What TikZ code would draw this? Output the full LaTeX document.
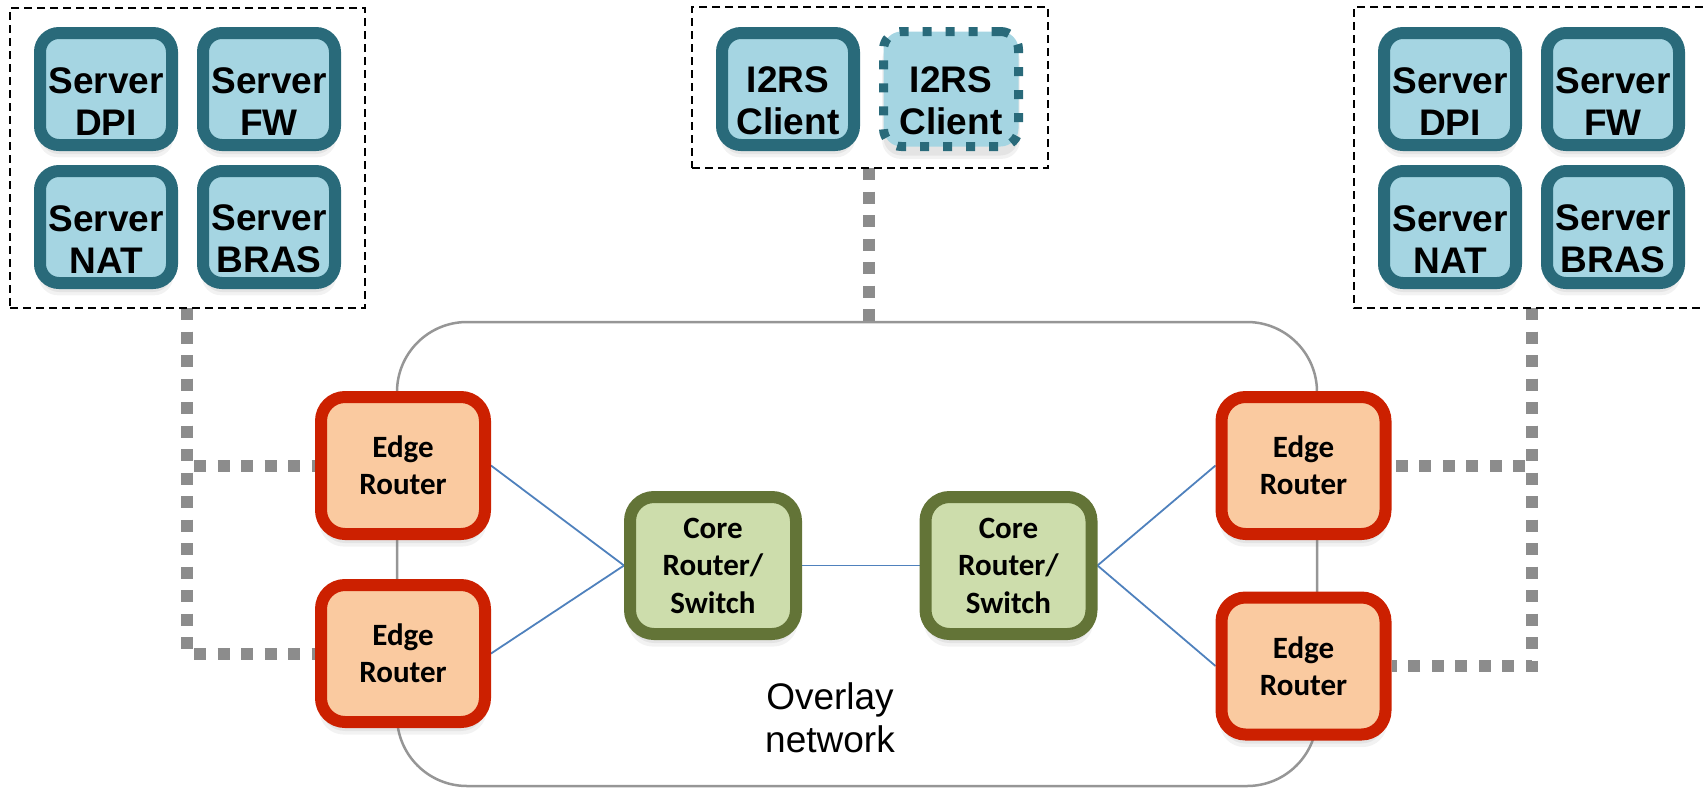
\documentclass[tikz,border=0pt]{standalone}
\usepackage{fontspec}
\newfontfamily\arialfont{Liberation Sans}
\newfontfamily\calfont{Carlito}
\usetikzlibrary{shadows}
\definecolor{tealb}{HTML}{296A7A}
\definecolor{tealf}{HTML}{A5D5E2}
\definecolor{redb}{HTML}{CC2000}
\definecolor{peachf}{HTML}{FACAA0}
\definecolor{oliveb}{HTML}{637437}
\definecolor{greenf}{HTML}{CDDDAC}
\definecolor{dotgray}{HTML}{8C8C8C}
\definecolor{ovgray}{HTML}{969696}
\definecolor{linkblue}{HTML}{4F81BD}
\pgfdeclarelayer{bg}
\pgfsetlayers{bg,main}
\begin{document}
\begin{tikzpicture}[x=1pt,y=-1pt,
  softshadow/.style={drop shadow={shadow xshift=0pt, shadow yshift=-11pt, opacity=.10, shadow scale=1.02},
                     drop shadow={shadow xshift=0pt, shadow yshift=-9pt, opacity=.12}},
  srv/.style={softshadow, draw=tealb, fill=tealf, line width=12pt, rounded corners=19pt,
    minimum width=132pt, minimum height=112pt, inner sep=0pt, align=center,
    font=\arialfont\bfseries\fontsize{37}{42}\selectfont,
    execute at begin node={\rule{0pt}{92pt}}},
  dotsrv/.style={srv, line width=9pt, dash pattern=on 9pt off 14pt, rounded corners=18pt,
    minimum width=135pt, minimum height=115pt},
  edgebox/.style={softshadow, draw=redb, fill=peachf, line width=12pt, rounded corners=24pt,
    minimum width=164pt, minimum height=137pt, inner sep=0pt, align=center,
    font=\calfont\bfseries\fontsize{31}{37}\selectfont},
  corebox/.style={edgebox, draw=oliveb, fill=greenf, minimum width=166pt,
    font=\calfont\bfseries\fontsize{31}{37.5}\selectfont},
  groupbox/.style={draw=black, line width=2pt, dash pattern=on 8pt off 5pt},
  overlaybox/.style={draw=ovgray, line width=2.5pt, rounded corners=70pt,
    minimum width=920pt, minimum height=464pt, inner sep=0pt},
  gconn/.style={draw=dotgray, line width=12pt, dash pattern=on 12pt off 11.5pt},
  blink/.style={draw=linkblue, line width=1.8pt},
  ovtext/.style={align=center, inner sep=0pt, font=\arialfont\fontsize{37}{43}\selectfont}
]
\useasboundingbox (0,0) rectangle (1703,788);

% containers
\node[groupbox, minimum width=355pt, minimum height=300pt, inner sep=0pt] (lbox) at (187.5,158) {};
\node[groupbox, minimum width=356pt, minimum height=161pt, inner sep=0pt] (mbox) at (870,87.5) {};
\coordinate (rtop) at (1703,7);
\coordinate (rbot) at (1703,308);
\draw[groupbox] (rtop) -- (1354,7) -- (1354,308) -- (rbot);
\node[overlaybox] (ov) at (857,554) {};
\node[ovtext] (ovlabel) at (830,718) {Overlay\\network};

% servers left
\node[srv] (ldpi) at (106,89) {Server\\DPI};
\node[srv] (lfw) at (269,89) {Server\\FW};
\node[srv] (lnat) at (106,227) {Server\\NAT};
\node[srv] (lbras) at (269,227) {Server\\BRAS};
% servers right
\node[srv] (rdpi) at (1450,89) {Server\\DPI};
\node[srv] (rfw) at (1613,89) {Server\\FW};
\node[srv] (rnat) at (1450,227) {Server\\NAT};
\node[srv] (rbras) at (1613,227) {Server\\BRAS};
% clients
\node[srv] (cl1) at (788,89) {I2RS\\Client};
\node[dotsrv] (cl2) at (951,89) {I2RS\\Client};

% routers
\node[edgebox] (er1) at (403,465.5) {Edge\\Router};
\node[edgebox] (er2) at (403,653.5) {Edge\\Router};
\node[edgebox] (er3) at (1303.5,465.5) {Edge\\Router};
\node[edgebox] (er4) at (1303.5,666) {Edge\\Router};
\node[corebox] (c1) at (713,565.5) {Core\\Router/\\Switch};
\node[corebox] (c2) at (1008.5,565.5) {Core\\Router/\\Switch};

% connectors
\coordinate (lbt) at (187,308);
\coordinate (mbt) at (869,168);
\coordinate (mend) at (869,330);
\coordinate (rbt) at (1532,308);
\begin{pgfonlayer}{bg}
\draw[gconn] (lbt) |- (er1.west);
\draw[gconn] (lbt) |- (er2.west);
\draw[gconn] (mbt) -- (mend);
\draw[gconn] (rbt) |- (er3.east);
\draw[gconn] (rbt) |- (er4.east);
\draw[blink] (er1.east) -- (c1.west);
\draw[blink] (er2.east) -- (c1.west);
\draw[blink] (c1.east) -- (c2.west);
\draw[blink] (c2.east) -- (er3.west);
\draw[blink] (c2.east) -- (er4.west);
\end{pgfonlayer}
\end{tikzpicture}
\end{document}
